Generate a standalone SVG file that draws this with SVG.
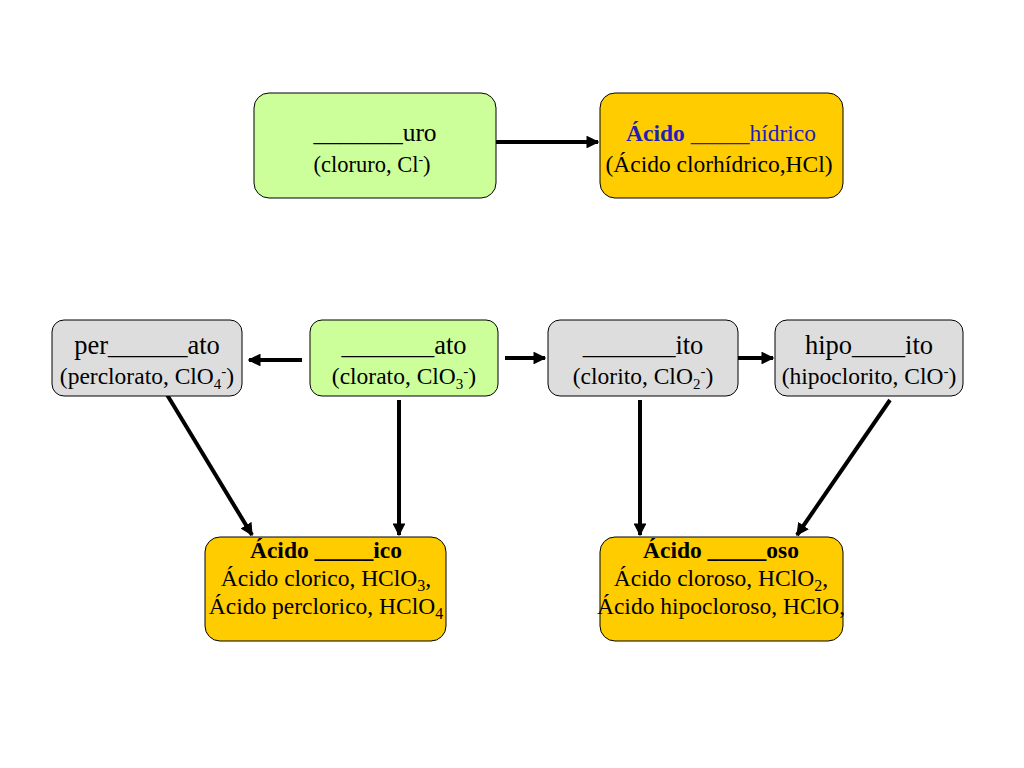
<svg xmlns="http://www.w3.org/2000/svg" width="1024" height="768" viewBox="0 0 1024 768">
<defs>
<style>
.box{stroke:#000;stroke-width:1}
.g{fill:#ccff99}
.o{fill:#ffcc00}
.y{fill:#dddddd}
text{font-family:"Liberation Serif","Times New Roman",serif;text-anchor:middle;fill:#000}
.t1{font-size:25.5px}
.t2{font-size:22.5px}
.r1{font-size:26.5px}
.r2{font-size:23.5px}
.t3{font-size:23.5px}
.b{font-weight:bold}
.blue{fill:#1f1fb4}
.c{stroke:#000;stroke-width:4;fill:none;marker-end:url(#ah)}
</style>
<marker id="ah" viewBox="0 0 10 10" refX="9" refY="5" markerWidth="3.2" markerHeight="3.2" orient="auto" markerUnits="strokeWidth">
<path d="M0,0 L10,5 L0,10 z" fill="#000"/>
</marker>
</defs>
<rect width="1024" height="768" fill="#fff"/>
<g id="connectors">
<line class="c" x1="496" y1="142" x2="598" y2="142"/>
<line class="c" x1="302" y1="360" x2="249" y2="360"/>
<line class="c" x1="505" y1="358" x2="545" y2="358"/>
<line class="c" x1="738" y1="358" x2="773" y2="358"/>
<line class="c" x1="166" y1="393" x2="252" y2="535"/>
<line class="c" x1="399" y1="400" x2="399" y2="535"/>
<line class="c" x1="640" y1="400" x2="640" y2="535"/>
<line class="c" x1="890" y1="400" x2="797" y2="535"/>
</g>
<g id="uro">
<rect class="box g" x="254" y="93" width="242" height="105" rx="15"/>
<text class="t1" x="375" y="141">_______uro</text>
<text class="t2" x="372" y="172">(cloruro, Cl<tspan dy="-8" font-size="14">-</tspan><tspan dy="8">)</tspan></text>
</g>
<g id="hidrico">
<rect class="box o" x="600" y="93" width="243" height="105" rx="15"/>
<text class="t3 blue" x="721" y="141"><tspan class="b">Ácido</tspan> _____hídrico</text>
<text class="t3" x="719" y="172">(Ácido clorhídrico,HCl)</text>
</g>
<g id="perato">
<rect class="box y" x="52" y="320" width="190" height="76" rx="12"/>
<text class="r1" x="147" y="354">per______ato</text>
<text class="r2" x="147" y="384">(perclorato, ClO<tspan dy="5" font-size="15">4</tspan><tspan dy="-13" font-size="15">-</tspan><tspan dy="8">)</tspan></text>
</g>
<g id="ato">
<rect class="box g" x="310" y="320" width="188" height="76" rx="12"/>
<text class="r1" x="404" y="354">_______ato</text>
<text class="r2" x="404" y="384">(clorato, ClO<tspan dy="5" font-size="15">3</tspan><tspan dy="-13" font-size="15">-</tspan><tspan dy="8">)</tspan></text>
</g>
<g id="ito">
<rect class="box y" x="548" y="320" width="190" height="76" rx="12"/>
<text class="r1" x="643" y="354">_______ito</text>
<text class="r2" x="643" y="384">(clorito, ClO<tspan dy="5" font-size="15">2</tspan><tspan dy="-13" font-size="15">-</tspan><tspan dy="8">)</tspan></text>
</g>
<g id="hipoito">
<rect class="box y" x="775" y="320" width="188" height="76" rx="12"/>
<text class="r1" x="869" y="354">hipo____ito</text>
<text class="r2" x="869" y="384">(hipoclorito, ClO<tspan dy="-8" font-size="15">-</tspan><tspan dy="8">)</tspan></text>
</g>
<g id="ico">
<rect class="box o" x="205" y="537" width="241" height="104" rx="15"/>
<text class="t3 b" x="326" y="558">Ácido _____ico</text>
<text class="t3" x="326" y="586">Ácido clorico, HClO<tspan dy="5" font-size="16">3</tspan><tspan dy="-5">,</tspan></text>
<text class="t3" x="326" y="614">Ácido perclorico, HClO<tspan dy="5" font-size="16">4</tspan></text>
</g>
<g id="oso">
<rect class="box o" x="600" y="537" width="243" height="104" rx="15"/>
<text class="t3 b" x="721" y="558">Ácido _____oso</text>
<text class="t3" x="721" y="586">Ácido cloroso, HClO<tspan dy="5" font-size="16">2</tspan><tspan dy="-5">,</tspan></text>
<text class="t3" x="721" y="614">Ácido hipocloroso, HClO,</text>
</g>
</svg>
